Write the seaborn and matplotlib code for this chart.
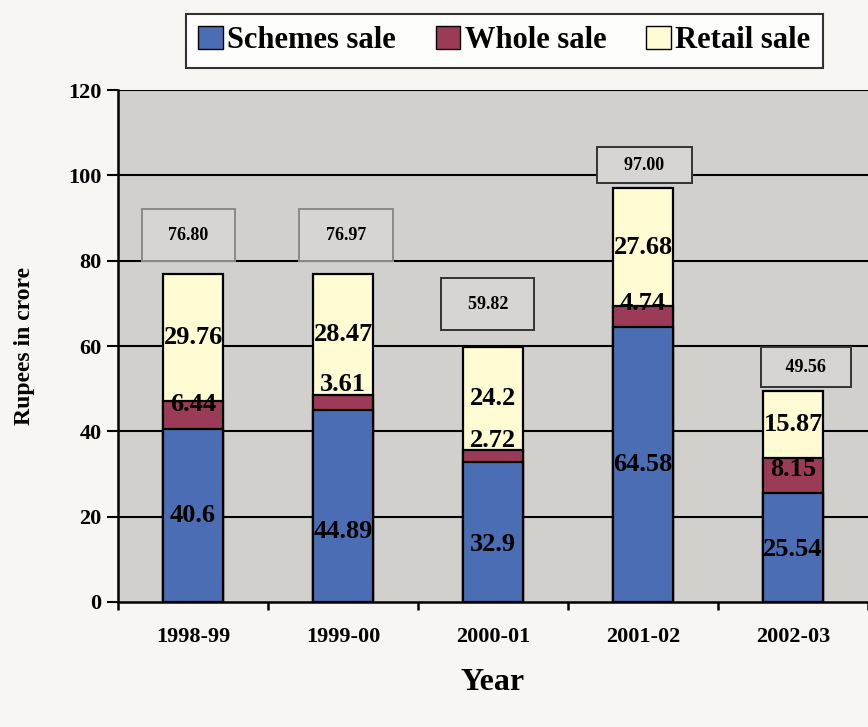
import numpy as np
import pandas as pd
import matplotlib
matplotlib.use("Agg")
import matplotlib.pyplot as plt
import seaborn as sns
from matplotlib.patches import Patch

years = ["1998-99", "1999-00", "2000-01", "2001-02", "2002-03"]
schemes = [40.6, 44.89, 32.9, 64.58, 25.54]
whole = [6.44, 3.61, 2.72, 4.74, 8.15]
retail = [29.76, 28.47, 24.2, 27.68, 15.87]
totals = [76.80, 76.97, 59.82, 97.00, 49.56]
yticks = [0, 20, 40, 60, 80, 100, 120]

# label placement styling (offsets in data units)
total_off = [9.2, 9.0, 10.0, 5.4, 5.5]
total_dx = [-0.03, 0.02, -0.035, 0.01, 0.085]
total_pad = [0.97, 0.97, 0.97, 0.53, 0.64]
total_space = [2, 2, 2, 4, 3]
total_edge = ["#8a8a8a", "#8a8a8a", "#333333", "#333333", "#333333"]
whole_off = [2.4, 4.2, 3.7, 3.0, 1.4]
scheme_off = [0.0, -6.0, -3.0, 0.0, -0.5]

sns.set_theme(style="white")
plt.rcParams["font.family"] = ["Liberation Serif", "DejaVu Serif"]
plt.rcParams["font.weight"] = "bold"
plt.rcParams["text.color"] = "black"
plt.rcParams["axes.labelcolor"] = "black"
plt.rcParams["xtick.color"] = "black"
plt.rcParams["ytick.color"] = "black"

df = pd.DataFrame({"Year": years, "Schemes": schemes, "Whole": whole, "Retail": retail})
df["c1"] = df["Schemes"]
df["c2"] = df["Schemes"] + df["Whole"]
df["c3"] = df["c2"] + df["Retail"]

c_blue = "#4a6db3"
c_red = "#9c3b57"
c_cream = "#fffbd2"

fig = plt.figure(figsize=(8.68, 7.27), dpi=100)
fig.patch.set_facecolor("#f7f6f3")
ax = fig.add_axes([0.136, 0.172, 0.864, 0.704])
ax.set_facecolor("#d1d0cd")

for col, colr in [("c3", c_cream), ("c2", c_red), ("c1", c_blue)]:
    sns.barplot(data=df, x="Year", y=col, color=colr, width=0.4, ax=ax,
                edgecolor="black", linewidth=1.6, saturation=1, zorder=3)

ax.set_ylim(0, 120)
ax.set_xlim(-0.5, 4.47)
ax.set_yticks(yticks)
ax.set_yticklabels([str(v) for v in yticks], fontsize=16, fontweight="bold", color="black")
ax.set_xticks(range(len(years)))
ax.set_xticklabels(years, fontsize=16, fontweight="bold", color="black")
ax.set_xticks(np.arange(-0.5, len(years)), minor=True)
ax.tick_params(axis="x", which="major", length=0, pad=18, bottom=True)
ax.tick_params(axis="x", which="minor", length=6, width=1.8, color="black", direction="out", bottom=True)
ax.tick_params(axis="y", length=8, width=1.5, color="black", direction="out", left=True, pad=4)
for y in yticks[1:]:
    ax.axhline(y, color="black", lw=1.5, zorder=1)

for s in ["top", "right"]:
    ax.spines[s].set_visible(False)
ax.spines["left"].set_color("black")
ax.spines["left"].set_linewidth(1.8)
ax.spines["bottom"].set_color("black")
ax.spines["bottom"].set_linewidth(1.8)

ax.set_xlabel("Year", fontsize=23, fontweight="bold", labelpad=15, color="black")
ax.set_ylabel("Rupees in crore", fontsize=17, fontweight="bold", labelpad=24, color="black")

for i in range(len(years)):
    ax.text(i, schemes[i] / 2 + scheme_off[i], f"{schemes[i]:g}", ha="center", va="center",
            fontsize=19, fontweight="bold", color="black", zorder=5)
    ax.text(i, schemes[i] + whole[i] / 2 + whole_off[i], f"{whole[i]:g}", ha="center", va="center",
            fontsize=19, fontweight="bold", color="black", zorder=5)
    ax.text(i, schemes[i] + whole[i] + retail[i] / 2, f"{retail[i]:g}", ha="center", va="center",
            fontsize=19, fontweight="bold", color="black", zorder=5)
    sp = " " * total_space[i]
    ax.text(i + total_dx[i], totals[i] + total_off[i], f"{sp}{totals[i]:.2f}{sp}", ha="center", va="center",
            fontsize=13, fontweight="bold", color="black", zorder=6,
            bbox=dict(boxstyle=f"square,pad={total_pad[i]}", facecolor="#d6d5d2",
                      edgecolor=total_edge[i], linewidth=1.4))

handles = [Patch(facecolor=c_blue, edgecolor="black", label="Schemes sale"),
           Patch(facecolor=c_red, edgecolor="black", label="Whole sale"),
           Patch(facecolor=c_cream, edgecolor="black", label="Retail sale")]
leg = fig.legend(handles=handles, loc="upper center", bbox_to_anchor=(0.581, 0.981), ncol=3,
                 frameon=True, fancybox=False, handlelength=0.8, handleheight=0.8,
                 handletextpad=0.15, columnspacing=1.3, borderpad=0.4, borderaxespad=0,
                 prop={"family": "Liberation Serif", "weight": "bold", "size": 22})
for t in leg.get_texts():
    t.set_color("black")
leg.get_frame().set_edgecolor("black")
leg.get_frame().set_linewidth(1.5)
leg.get_frame().set_facecolor("white")

fig.savefig("out.png", dpi=100, facecolor=fig.get_facecolor())
